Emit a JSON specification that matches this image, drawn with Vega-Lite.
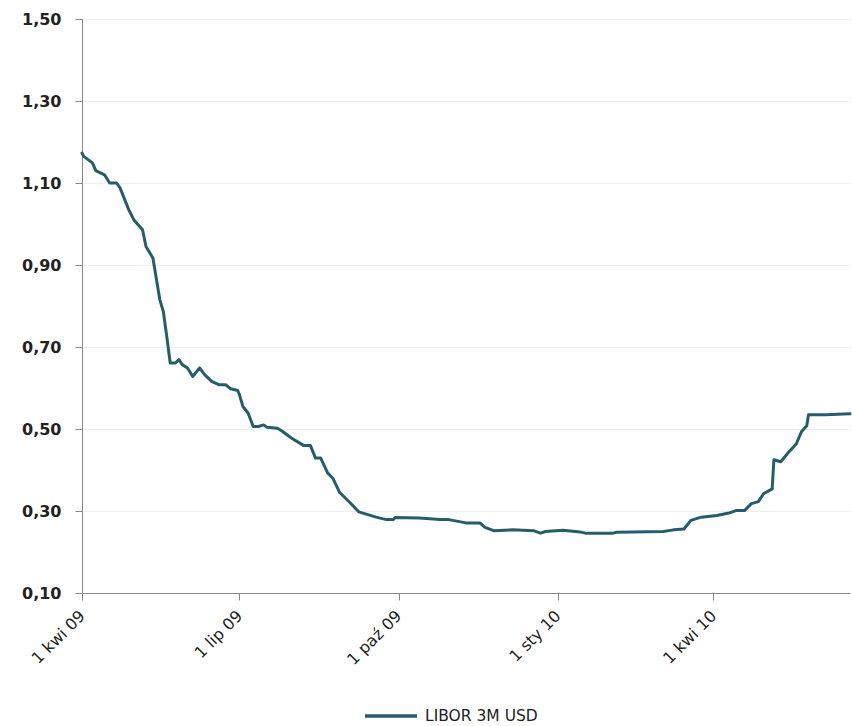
{
  "$schema": "https://vega.github.io/schema/vega-lite/v6.json",
  "autosize": "none",
  "width": 768,
  "height": 574,
  "padding": {"left": 82, "top": 19, "right": 2, "bottom": 133},
  "background": "white",
  "config": {"view": {"stroke": null}, "font": "DejaVu Sans"},
  "data": {"values": [
    {"date": "2009-04-01", "value": 1.173, "series": "LIBOR 3M USD"},
    {"date": "2009-04-02", "value": 1.165, "series": "LIBOR 3M USD"},
    {"date": "2009-04-07", "value": 1.149, "series": "LIBOR 3M USD"},
    {"date": "2009-04-09", "value": 1.13, "series": "LIBOR 3M USD"},
    {"date": "2009-04-14", "value": 1.12, "series": "LIBOR 3M USD"},
    {"date": "2009-04-17", "value": 1.10, "series": "LIBOR 3M USD"},
    {"date": "2009-04-21", "value": 1.10, "series": "LIBOR 3M USD"},
    {"date": "2009-04-23", "value": 1.088, "series": "LIBOR 3M USD"},
    {"date": "2009-04-28", "value": 1.035, "series": "LIBOR 3M USD"},
    {"date": "2009-05-01", "value": 1.01, "series": "LIBOR 3M USD"},
    {"date": "2009-05-06", "value": 0.986, "series": "LIBOR 3M USD"},
    {"date": "2009-05-08", "value": 0.945, "series": "LIBOR 3M USD"},
    {"date": "2009-05-12", "value": 0.917, "series": "LIBOR 3M USD"},
    {"date": "2009-05-16", "value": 0.815, "series": "LIBOR 3M USD"},
    {"date": "2009-05-18", "value": 0.787, "series": "LIBOR 3M USD"},
    {"date": "2009-05-20", "value": 0.726, "series": "LIBOR 3M USD"},
    {"date": "2009-05-22", "value": 0.661, "series": "LIBOR 3M USD"},
    {"date": "2009-05-25", "value": 0.661, "series": "LIBOR 3M USD"},
    {"date": "2009-05-27", "value": 0.669, "series": "LIBOR 3M USD"},
    {"date": "2009-05-29", "value": 0.657, "series": "LIBOR 3M USD"},
    {"date": "2009-06-01", "value": 0.649, "series": "LIBOR 3M USD"},
    {"date": "2009-06-04", "value": 0.628, "series": "LIBOR 3M USD"},
    {"date": "2009-06-08", "value": 0.649, "series": "LIBOR 3M USD"},
    {"date": "2009-06-11", "value": 0.632, "series": "LIBOR 3M USD"},
    {"date": "2009-06-15", "value": 0.616, "series": "LIBOR 3M USD"},
    {"date": "2009-06-19", "value": 0.608, "series": "LIBOR 3M USD"},
    {"date": "2009-06-23", "value": 0.608, "series": "LIBOR 3M USD"},
    {"date": "2009-06-26", "value": 0.598, "series": "LIBOR 3M USD"},
    {"date": "2009-06-30", "value": 0.594, "series": "LIBOR 3M USD"},
    {"date": "2009-07-01", "value": 0.584, "series": "LIBOR 3M USD"},
    {"date": "2009-07-03", "value": 0.555, "series": "LIBOR 3M USD"},
    {"date": "2009-07-06", "value": 0.539, "series": "LIBOR 3M USD"},
    {"date": "2009-07-09", "value": 0.506, "series": "LIBOR 3M USD"},
    {"date": "2009-07-12", "value": 0.506, "series": "LIBOR 3M USD"},
    {"date": "2009-07-15", "value": 0.510, "series": "LIBOR 3M USD"},
    {"date": "2009-07-17", "value": 0.504, "series": "LIBOR 3M USD"},
    {"date": "2009-07-23", "value": 0.502, "series": "LIBOR 3M USD"},
    {"date": "2009-07-26", "value": 0.494, "series": "LIBOR 3M USD"},
    {"date": "2009-07-31", "value": 0.478, "series": "LIBOR 3M USD"},
    {"date": "2009-08-07", "value": 0.46, "series": "LIBOR 3M USD"},
    {"date": "2009-08-11", "value": 0.46, "series": "LIBOR 3M USD"},
    {"date": "2009-08-14", "value": 0.429, "series": "LIBOR 3M USD"},
    {"date": "2009-08-17", "value": 0.429, "series": "LIBOR 3M USD"},
    {"date": "2009-08-21", "value": 0.393, "series": "LIBOR 3M USD"},
    {"date": "2009-08-24", "value": 0.38, "series": "LIBOR 3M USD"},
    {"date": "2009-08-28", "value": 0.345, "series": "LIBOR 3M USD"},
    {"date": "2009-09-03", "value": 0.32, "series": "LIBOR 3M USD"},
    {"date": "2009-09-08", "value": 0.298, "series": "LIBOR 3M USD"},
    {"date": "2009-09-18", "value": 0.285, "series": "LIBOR 3M USD"},
    {"date": "2009-09-24", "value": 0.279, "series": "LIBOR 3M USD"},
    {"date": "2009-09-28", "value": 0.279, "series": "LIBOR 3M USD"},
    {"date": "2009-09-29", "value": 0.284, "series": "LIBOR 3M USD"},
    {"date": "2009-10-13", "value": 0.283, "series": "LIBOR 3M USD"},
    {"date": "2009-10-25", "value": 0.279, "series": "LIBOR 3M USD"},
    {"date": "2009-10-30", "value": 0.279, "series": "LIBOR 3M USD"},
    {"date": "2009-11-09", "value": 0.271, "series": "LIBOR 3M USD"},
    {"date": "2009-11-17", "value": 0.271, "series": "LIBOR 3M USD"},
    {"date": "2009-11-20", "value": 0.26, "series": "LIBOR 3M USD"},
    {"date": "2009-11-25", "value": 0.252, "series": "LIBOR 3M USD"},
    {"date": "2009-12-06", "value": 0.254, "series": "LIBOR 3M USD"},
    {"date": "2009-12-18", "value": 0.252, "series": "LIBOR 3M USD"},
    {"date": "2009-12-22", "value": 0.246, "series": "LIBOR 3M USD"},
    {"date": "2009-12-25", "value": 0.25, "series": "LIBOR 3M USD"},
    {"date": "2010-01-04", "value": 0.253, "series": "LIBOR 3M USD"},
    {"date": "2010-01-14", "value": 0.249, "series": "LIBOR 3M USD"},
    {"date": "2010-01-17", "value": 0.246, "series": "LIBOR 3M USD"},
    {"date": "2010-02-02", "value": 0.246, "series": "LIBOR 3M USD"},
    {"date": "2010-02-04", "value": 0.248, "series": "LIBOR 3M USD"},
    {"date": "2010-03-03", "value": 0.25, "series": "LIBOR 3M USD"},
    {"date": "2010-03-09", "value": 0.254, "series": "LIBOR 3M USD"},
    {"date": "2010-03-15", "value": 0.256, "series": "LIBOR 3M USD"},
    {"date": "2010-03-19", "value": 0.277, "series": "LIBOR 3M USD"},
    {"date": "2010-03-25", "value": 0.285, "series": "LIBOR 3M USD"},
    {"date": "2010-04-03", "value": 0.289, "series": "LIBOR 3M USD"},
    {"date": "2010-04-10", "value": 0.295, "series": "LIBOR 3M USD"},
    {"date": "2010-04-14", "value": 0.301, "series": "LIBOR 3M USD"},
    {"date": "2010-04-19", "value": 0.301, "series": "LIBOR 3M USD"},
    {"date": "2010-04-23", "value": 0.318, "series": "LIBOR 3M USD"},
    {"date": "2010-04-27", "value": 0.323, "series": "LIBOR 3M USD"},
    {"date": "2010-04-30", "value": 0.342, "series": "LIBOR 3M USD"},
    {"date": "2010-05-05", "value": 0.354, "series": "LIBOR 3M USD"},
    {"date": "2010-05-06", "value": 0.425, "series": "LIBOR 3M USD"},
    {"date": "2010-05-10", "value": 0.42, "series": "LIBOR 3M USD"},
    {"date": "2010-05-14", "value": 0.441, "series": "LIBOR 3M USD"},
    {"date": "2010-05-19", "value": 0.464, "series": "LIBOR 3M USD"},
    {"date": "2010-05-22", "value": 0.494, "series": "LIBOR 3M USD"},
    {"date": "2010-05-25", "value": 0.508, "series": "LIBOR 3M USD"},
    {"date": "2010-05-26", "value": 0.535, "series": "LIBOR 3M USD"},
    {"date": "2010-06-05", "value": 0.535, "series": "LIBOR 3M USD"},
    {"date": "2010-06-19", "value": 0.537, "series": "LIBOR 3M USD"}
  ]},
  "mark": {"type": "line", "strokeWidth": 3, "strokeJoin": "round", "strokeCap": "round"},
  "encoding": {
    "x": {
      "field": "date", "type": "temporal",
      "scale": {"type": "utc", "domain": [{"year": 2009, "month": 4, "date": 1, "utc": true}, {"year": 2010, "month": 6, "date": 19, "utc": true}]},
      "axis": {
        "title": null,
        "values": [
          {"year": 2009, "month": 4, "date": 1, "utc": true},
          {"year": 2009, "month": 7, "date": 1, "utc": true},
          {"year": 2009, "month": 10, "date": 1, "utc": true},
          {"year": 2010, "month": 1, "date": 1, "utc": true},
          {"year": 2010, "month": 4, "date": 1, "utc": true}
        ],
        "labelExpr": "utcdate(datum.value) + ' ' + ['sty','lut','mar','kwi','maj','cze','lip','sie','wrz','paź','lis','gru'][utcmonth(datum.value)] + ' ' + utcFormat(datum.value, '%y')",
        "labelAngle": -45,
        "labelAlign": "right",
        "labelBaseline": "middle",
        "labelFont": "DejaVu Sans",
        "labelFontSize": 16,
        "labelColor": "#222",
        "labelPadding": 13,
        "labelOverlap": false,
        "tickSize": 7,
        "tickColor": "#888",
        "domainColor": "#888",
        "grid": false
      }
    },
    "y": {
      "field": "value", "type": "quantitative",
      "scale": {"domain": [0.1, 1.5], "nice": false, "zero": false},
      "axis": {
        "title": null,
        "values": [0.1, 0.3, 0.5, 0.7, 0.9, 1.1, 1.3, 1.5],
        "labelExpr": "replace(format(datum.value, '.2f'), '.', ',')",
        "labelFont": "DejaVu Sans",
        "labelFontSize": 16,
        "labelFontWeight": "bold",
        "labelColor": "#222",
        "labelPadding": 14,
        "tickSize": 7,
        "tickColor": "#888",
        "domainColor": "#888",
        "grid": true,
        "gridColor": "#eeeeee"
      }
    },
    "color": {
      "field": "series", "type": "nominal",
      "scale": {"range": ["#255d6c"]},
      "legend": {
        "title": null,
        "orient": "none",
        "legendX": 281,
        "legendY": 669,
        "symbolType": "stroke",
        "symbolSize": 2700,
        "symbolStrokeWidth": 3.5,
        "labelFont": "DejaVu Sans",
        "labelFontSize": 15.5,
        "labelColor": "#222",
        "labelOffset": 6
      }
    }
  }
}
